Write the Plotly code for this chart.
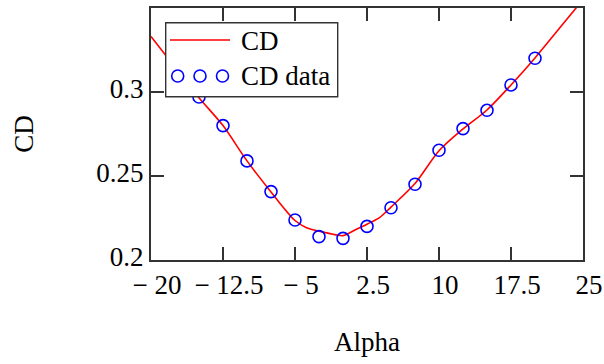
import plotly.graph_objects as go

# Measured drag coefficient vs. angle of attack
alpha_data = [-15, -12.5, -10, -7.5, -5, -2.5, 0, 2.5, 5, 7.5, 10, 12.5, 15, 17.5, 20]
cd_data = [0.297, 0.280, 0.259, 0.2407, 0.2238, 0.2139, 0.2129, 0.2200, 0.2311,
           0.2451, 0.2653, 0.2782, 0.2891, 0.3042, 0.3201]

# Fitted curve
alpha_fit = [-20, -17.5, -15, -12.5, -10, -7.5, -5, -3.8, -2.5, -1.35, 0, 1.4,
             2.5, 3.8, 5, 7.5, 10, 12.5, 15, 17.5, 20, 22.5, 25]
cd_fit = [0.333, 0.3148, 0.2966, 0.2800, 0.2590, 0.2405, 0.2235, 0.2192, 0.2172,
          0.2157, 0.2145, 0.2183, 0.2213, 0.2252, 0.2315, 0.2455, 0.2650, 0.2780,
          0.2893, 0.3042, 0.3203, 0.3376, 0.3550]

x_ticks = [-20, -12.5, -5, 2.5, 10, 17.5, 25]
x_ticktext = ["\u2212 20", "\u2212 12.5", "\u2212 5", "2.5", "10", "17.5", "25"]
y_ticks = [0.2, 0.25, 0.3]
y_ticktext = ["0.2", "0.25", "0.3"]

W, H = 604, 364
L, R, T, B = 151, 583, 8, 260
FONT = "Liberation Serif, Times New Roman, serif"
FS = 27
AXIS = "#333333"


def px(x):
    return (x - L) / (R - L)


def py(y):
    return (B - y) / (B - T)


fig = go.Figure()
fig.add_trace(go.Scatter(x=alpha_fit, y=cd_fit, mode="lines", name="CD",
                         line=dict(color="#ff0000", width=1.6, shape="spline", smoothing=0.8),
                         showlegend=False, cliponaxis=True))
fig.add_trace(go.Scatter(x=alpha_data, y=cd_data, mode="markers", name="CD data",
                         marker=dict(symbol="circle-open", size=12, color="#0000ff",
                                     line=dict(width=1.6, color="#0000ff")),
                         showlegend=False))

axis_common = dict(showline=True, linecolor=AXIS, linewidth=2, mirror="ticks",
                   ticks="inside", ticklen=13, tickwidth=1.6, tickcolor=AXIS,
                   showgrid=False, zeroline=False,
                   tickfont=dict(family=FONT, size=FS, color="#000000"))

fig.update_xaxes(range=[-20, 25], tickmode="array", tickvals=x_ticks, ticktext=x_ticktext,
                 title=dict(text="Alpha", font=dict(family=FONT, size=FS, color="#000000"),
                            standoff=33),
                 ticklabelshift=6, **axis_common)
fig.update_yaxes(range=[0.2, 0.35], tickmode="array", tickvals=y_ticks, ticktext=y_ticktext,
                 title=dict(text="CD", font=dict(family=FONT, size=FS, color="#000000"),
                            standoff=55),
                 ticklabelshift=-3, **axis_common)

# Legend box drawn on top of the plot
shapes = [
    dict(type="rect", xref="paper", yref="paper", x0=px(165.7), x1=px(337.7),
         y0=py(96.7), y1=py(22.7), fillcolor="#ffffff",
         line=dict(color=AXIS, width=1.4), layer="above"),
    dict(type="line", xref="paper", yref="paper", x0=px(170), x1=px(230),
         y0=py(40), y1=py(40), line=dict(color="#ff0000", width=1.6), layer="above"),
]
for cx in (177.7, 200, 222.5):
    shapes.append(dict(type="circle", xref="paper", yref="paper",
                       xsizemode="pixel", ysizemode="pixel",
                       xanchor=px(cx), yanchor=py(76),
                       x0=-6, x1=6, y0=-6, y1=6,
                       line=dict(color="#0000ff", width=1.6), layer="above"))

annotations = [
    dict(text="CD", xref="paper", yref="paper", x=px(239), y=py(41), xanchor="left",
         yanchor="middle", showarrow=False, font=dict(family=FONT, size=FS, color="#000000")),
    dict(text="CD data", xref="paper", yref="paper", x=px(239), y=py(76), xanchor="left",
         yanchor="middle", showarrow=False, font=dict(family=FONT, size=FS, color="#000000")),
]

fig.update_layout(width=W, height=H, margin=dict(l=L, r=W - R, t=T, b=H - B, autoexpand=False),
                  paper_bgcolor="#ffffff", plot_bgcolor="#ffffff",
                  shapes=shapes, annotations=annotations, showlegend=False)

fig.write_html("out.html")
